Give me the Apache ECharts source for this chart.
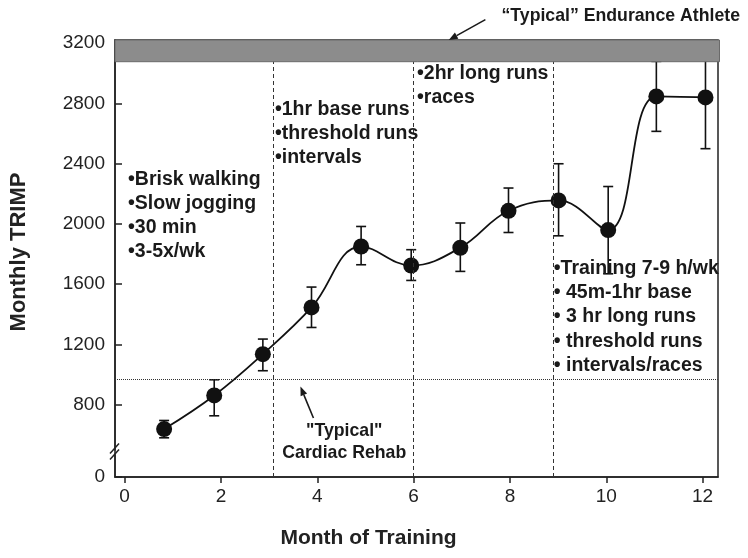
<!DOCTYPE html>
<html>
<head>
<meta charset="utf-8">
<script src="https://cdn.jsdelivr.net/npm/echarts@6/dist/echarts.min.js"></script>
<style>html,body{margin:0;padding:0;background:#fff}#c{width:748px;height:558px}</style>
</head>
<body>
<div id="c"></div>
<script>
// ---- data ----
const months   = [0.82, 1.86, 2.87, 3.88, 4.91, 5.95, 6.97, 7.97, 9.01, 10.04, 11.04, 12.06];
const trimp    = [639, 862, 1136, 1446, 1850, 1724, 1842, 2087, 2156, 1959, 2846, 2839];
const errLow   = [581, 727, 1026, 1313, 1729, 1625, 1685, 1943, 1921, 1669, 2614, 2499];
const errHigh  = [696, 966, 1236, 1581, 1983, 1829, 2006, 2238, 2399, 2248, 3078, 3179];
const phaseBounds = [3.09, 5.99, 8.89];
const rehabLevel = 970;
const athleteBand = [3076, 3220];
const xTicks = [0, 2, 4, 6, 8, 10, 12];
const yTicks = [0, 800, 1200, 1600, 2000, 2400, 2800, 3200];
const noteTexts = [
  '•Brisk walking\n•Slow jogging\n•30 min\n•3-5x/wk',
  '•1hr base runs\n•threshold runs\n•intervals',
  '•2hr long runs\n•races',
  '•Training 7-9 h/wk\n• 45m-1hr base\n• 3 hr long runs\n• threshold runs\n• intervals/races',
  '"Typical"\nCardiac Rehab',
  '\u201CTypical\u201D Endurance Athlete'
];

// ---- layout (positions in data space) ----
const FONT = 'Liberation Sans, Arial, Helvetica, sans-serif';
const noteLayout = [
  {at: [0.07, 2373], align: 'left', va: 'top', size: 19.5, lh: 24},
  {at: [3.12, 2837], align: 'left', va: 'top', size: 19.5, lh: 24},
  {at: [6.07, 3076], align: 'left', va: 'top', size: 19.5, lh: 24},
  {at: [8.91, 1787], align: 'left', va: 'top', size: 19.5, lh: 24.4},
  {at: [4.56, 551], align: 'center', va: 'middle', size: 17.7, lh: 21.6},
  {at: [10.30, 3377], align: 'center', va: 'middle', size: 17.7, lh: 22}
];
const arrowLayout = [
  {from: [7.49, 3355], to: [6.73, 3220]},
  {from: [3.92, 712], to: [3.65, 921]}
];
const X_MIN = -0.2, X_MAX = 12.32, Y_MAX = 3220;

const chart = echarts.init(document.getElementById('c'), null, {renderer: 'canvas'});

const lineData = months.map((m, i) => [m, trimp[i]]);
const errData = months.map((m, i) => [m, errLow[i], errHigh[i]]);
const noteData = noteTexts.map((t, i) => [noteLayout[i].at[0], noteLayout[i].at[1], i]);
const arrowData = arrowLayout.map((a) => [a.from[0], a.from[1], a.to[0], a.to[1]]);

const option = {
  animation: false,
  backgroundColor: '#fff',
  textStyle: {fontFamily: FONT},
  grid: {left: 115, right: 30, top: 40, bottom: 81, show: true, borderColor: '#222', borderWidth: 1.5},
  xAxis: {
    type: 'value', min: X_MIN, max: X_MAX,
    splitLine: {show: false},
    axisLine: {show: true, onZero: false, lineStyle: {color: '#222', width: 1.5}},
    axisTick: {show: true, inside: false, length: 6, customValues: xTicks, lineStyle: {color: '#222', width: 1.5}},
    axisLabel: {customValues: xTicks, fontSize: 19, color: '#222', margin: 10, fontFamily: FONT},
    name: 'Month of Training', nameLocation: 'middle', nameGap: 51,
    nameTextStyle: {fontSize: 21, fontWeight: 'bold', color: '#222', fontFamily: FONT, padding: [0, 96, 0, 0]}
  },
  yAxis: {
    type: 'value', min: 0, max: Y_MAX,
    breaks: [{start: 150, end: 500, gap: '1%'}],
    breakArea: {show: false},
    splitLine: {show: false},
    axisLine: {show: true, onZero: false, lineStyle: {color: '#222', width: 1.5}},
    axisTick: {show: true, inside: true, length: 7, customValues: yTicks, lineStyle: {color: '#222', width: 1.5}},
    axisLabel: {customValues: yTicks, fontSize: 19, color: '#222', margin: 10, fontFamily: FONT,
      formatter: function (v) { return String(Math.round(v)); }},
    name: 'Monthly TRIMP', nameLocation: 'middle', nameGap: 85,
    nameTextStyle: {fontSize: 22, fontWeight: 'bold', color: '#222', fontFamily: FONT, padding: [0, 0, 0, 13]}
  },
  series: [
    {
      type: 'custom', name: 'errorbars', z: 2,
      data: errData,
      renderItem: function (params, api) {
        const x = api.value(0);
        const lo = api.coord([x, api.value(1)]);
        const hi = api.coord([x, api.value(2)]);
        const w = 5;
        const st = {stroke: '#111', lineWidth: 1.6};
        return {type: 'group', children: [
          {type: 'line', shape: {x1: lo[0], y1: lo[1], x2: hi[0], y2: hi[1]}, style: st},
          {type: 'line', shape: {x1: lo[0] - w, y1: lo[1], x2: lo[0] + w, y2: lo[1]}, style: st},
          {type: 'line', shape: {x1: hi[0] - w, y1: hi[1], x2: hi[0] + w, y2: hi[1]}, style: st}
        ]};
      }
    },
    {
      type: 'line', name: 'TRIMP', z: 3,
      data: lineData, smooth: 0.4,
      symbol: 'circle', symbolSize: 16,
      itemStyle: {color: '#111'},
      lineStyle: {color: '#111', width: 1.8},
      markLine: {
        silent: true, symbol: 'none', label: {show: false},
        data: phaseBounds.map(v => ({xAxis: v, lineStyle: {type: [4, 3], color: '#333', width: 1}}))
          .concat([{yAxis: rehabLevel, lineStyle: {type: [1, 1], color: '#333', width: 1}}])
      }
    },
    {
      type: 'custom', name: 'band', z: 10,
      data: [athleteBand],
      renderItem: function (params, api) {
        const cs = params.coordSys;
        const top = api.coord([X_MIN, api.value(1)])[1];
        const bot = api.coord([X_MIN, api.value(0)])[1];
        return {type: 'rect', shape: {x: cs.x, y: top, width: cs.width + 1.5, height: bot - top},
          style: {fill: '#8c8c8c', stroke: '#6a6a6a', lineWidth: 1}};
      }
    },
    {
      type: 'custom', name: 'notes', z: 12, clip: false,
      data: noteData,
      renderItem: function (params, api) {
        const i = api.value(2);
        const L = noteLayout[i];
        const p = api.coord([api.value(0), api.value(1)]);
        return {type: 'text', x: p[0], y: p[1], style: {
          text: noteTexts[i], fill: '#1a1a1a',
          font: 'bold ' + L.size + 'px ' + FONT,
          align: L.align, verticalAlign: L.va, lineHeight: L.lh
        }};
      }
    },
    {
      type: 'custom', name: 'arrows', z: 12, clip: false,
      data: arrowData,
      renderItem: function (params, api) {
        const a = api.coord([api.value(0), api.value(1)]);
        const b = api.coord([api.value(2), api.value(3)]);
        const dx = b[0] - a[0], dy = b[1] - a[1];
        const len = Math.sqrt(dx * dx + dy * dy);
        const ux = dx / len, uy = dy / len;
        const hl = 9, hw = 3.5;
        const bx = b[0] - ux * hl, by = b[1] - uy * hl;
        return {type: 'group', children: [
          {type: 'line', shape: {x1: a[0], y1: a[1], x2: bx, y2: by}, style: {stroke: '#1a1a1a', lineWidth: 1.6}},
          {type: 'polygon', shape: {points: [[b[0], b[1]], [bx - uy * hw, by + ux * hw], [bx + uy * hw, by - ux * hw]]},
            style: {fill: '#1a1a1a'}}
        ]};
      }
    },
    {
      type: 'custom', name: 'breakmark', z: 12, clip: false,
      data: [[X_MIN, 150]],
      renderItem: function (params, api) {
        const p = api.coord([api.value(0), api.value(1)]);
        const st = {stroke: '#222', lineWidth: 1.5};
        return {type: 'group', children: [
          {type: 'line', shape: {x1: p[0] - 5, y1: p[1] - 1, x2: p[0] + 4, y2: p[1] - 11}, style: st},
          {type: 'line', shape: {x1: p[0] - 5, y1: p[1] + 5, x2: p[0] + 4, y2: p[1] - 5}, style: st}
        ]};
      }
    }
  ]
};
chart.setOption(option);
</script>
</body>
</html>
